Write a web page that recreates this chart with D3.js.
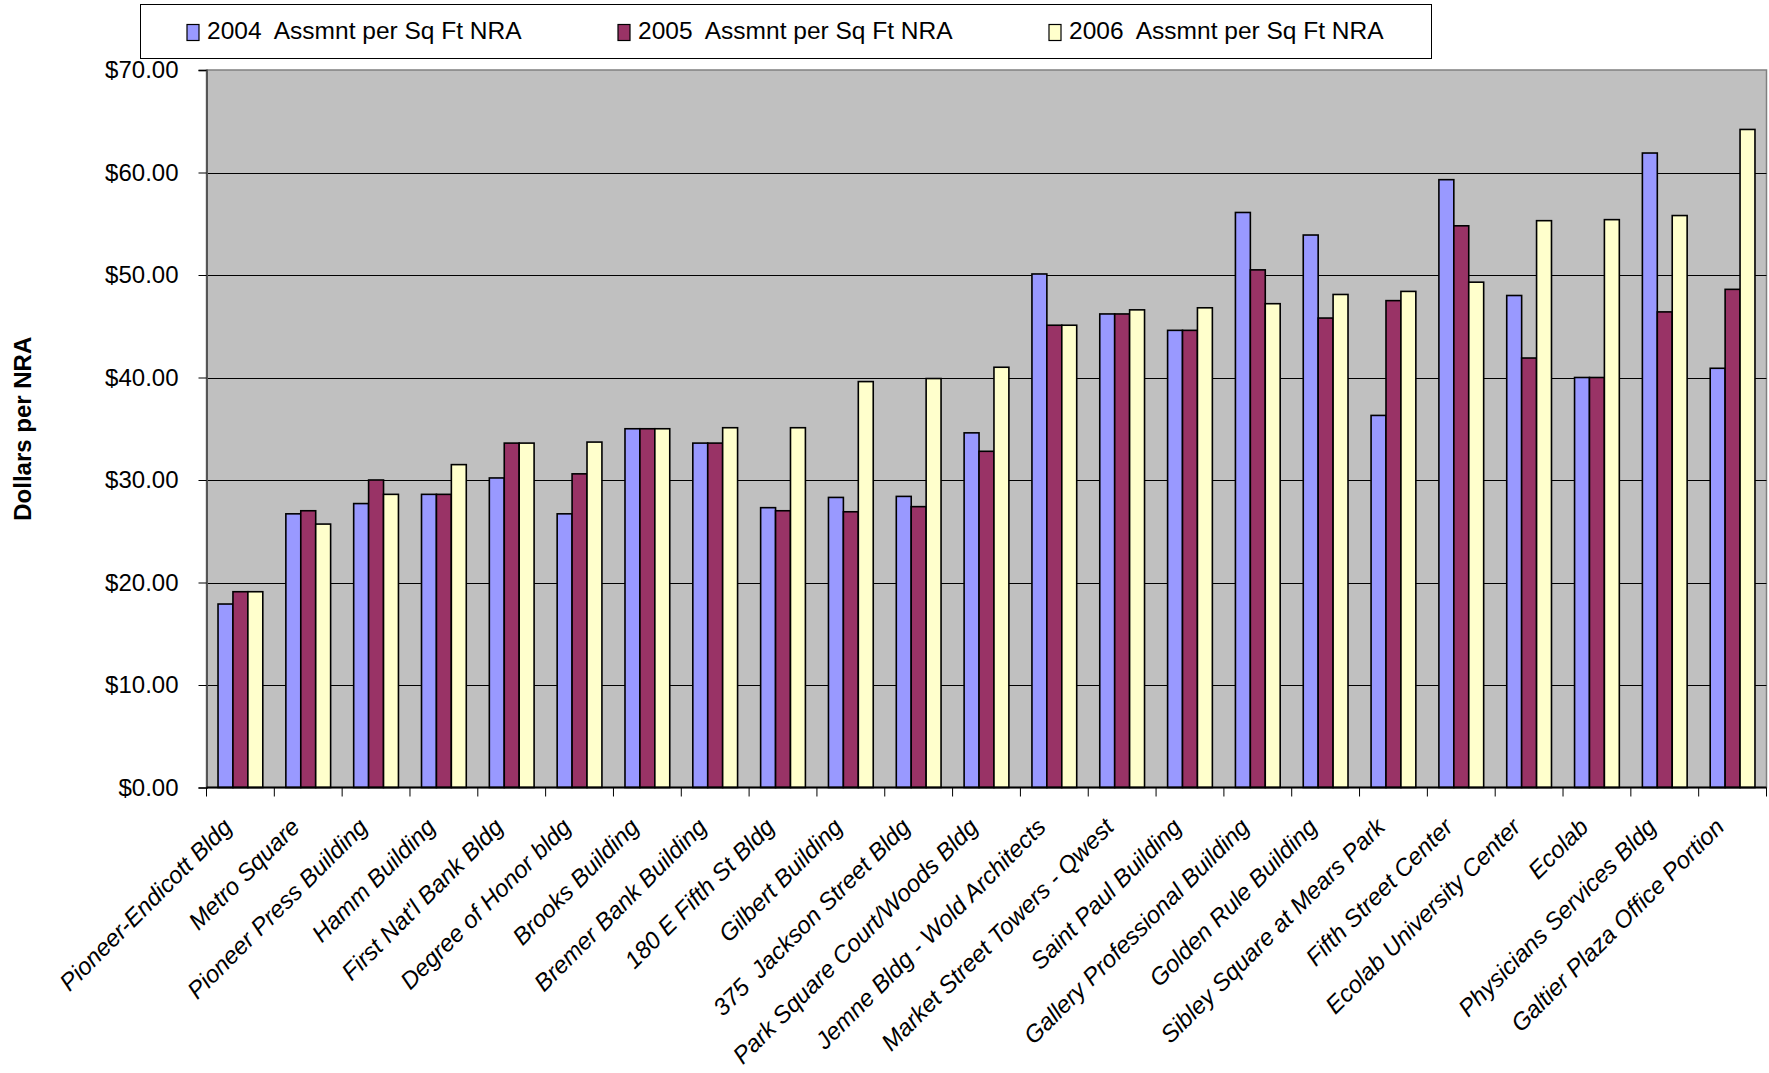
<!DOCTYPE html>
<html>
<head>
<meta charset="utf-8">
<script src="https://cdn.jsdelivr.net/npm/d3@7/dist/d3.min.js"></script>
<style>
  html, body { margin: 0; padding: 0; background: #ffffff; }
  svg { display: block; font-family: "Liberation Sans", Arial, sans-serif; }
  svg text { white-space: pre; }
</style>
</head>
<body>
<svg id="chart" width="1769" height="1073"></svg>
<script>
// Buildings, in display order
const buildings = [
  "Pioneer-Endicott Bldg", "Metro Square", "Pioneer Press Building", "Hamm Building",
  "First Nat'l Bank Bldg", "Degree of Honor bldg", "Brooks Building", "Bremer Bank Building",
  "180 E Fifth St Bldg", "Gilbert Building", "375  Jackson Street Bldg",
  "Park Square Court/Woods Bldg", "Jemne Bldg - Wold Architects",
  "Market Street Towers - Qwest", "Saint Paul Building", "Gallery Professional Building",
  "Golden Rule Building", "Sibley Square at Mears Park", "Fifth Street Center",
  "Ecolab University Center", "Ecolab", "Physicians Services Bldg", "Galtier Plaza Office Portion"
];

// Assessment per square foot of net rentable area, by year
const assess2004 = [17.9, 26.7, 27.7, 28.6, 30.2, 26.7, 35.0, 33.6, 27.3, 28.3, 28.4, 34.6,
                    50.1, 46.2, 44.6, 56.1, 53.9, 36.3, 59.3, 48.0, 40.0, 61.9, 40.9];
const assess2005 = [19.1, 27.0, 30.0, 28.6, 33.6, 30.6, 35.0, 33.6, 27.0, 26.9, 27.4, 32.8,
                    45.1, 46.2, 44.6, 50.5, 45.8, 47.5, 54.8, 41.9, 40.0, 46.4, 48.6];
const assess2006 = [19.1, 25.7, 28.6, 31.5, 33.6, 33.7, 35.0, 35.1, 35.1, 39.6, 39.9, 41.0,
                    45.1, 46.6, 46.8, 47.2, 48.1, 48.4, 49.3, 55.3, 55.4, 55.8, 64.2];

const seriesNames = ["2004  Assmnt per Sq Ft NRA", "2005  Assmnt per Sq Ft NRA", "2006  Assmnt per Sq Ft NRA"];
const seriesColors = ["#9999FF", "#993366", "#FFFFCC"];
const yTicks = [0, 10, 20, 30, 40, 50, 60, 70];
const yTitle = "Dollars per NRA";

const seriesValues = [assess2004, assess2005, assess2006];

const svg = d3.select("#chart");
const plot = { left: 206.5, right: 1766.5, top: 70, bottom: 787.5 };

const x = d3.scaleBand().domain(buildings).range([plot.left, plot.right]).padding(0);
const y = d3.scaleLinear().domain([0, 70]).range([plot.bottom, plot.top]);

const bw = x.bandwidth();
const barW = bw * 0.22;
const groupOffset = bw * 0.17;

// Plot background
svg.append("rect")
  .attr("x", plot.left).attr("y", plot.top)
  .attr("width", plot.right - plot.left).attr("height", plot.bottom - plot.top)
  .attr("fill", "#C0C0C0").attr("stroke", "#808080").attr("stroke-width", 1.5);

// Horizontal gridlines
svg.append("g").selectAll("line")
  .data(yTicks.filter(t => t > 0 && t < 70))
  .join("line")
  .attr("x1", plot.left).attr("x2", plot.right)
  .attr("y1", d => Math.round(y(d)) + 0.5).attr("y2", d => Math.round(y(d)) + 0.5)
  .attr("stroke", "#000").attr("stroke-width", 1);

// Bars
seriesValues.forEach((vals, si) => {
  svg.append("g").selectAll("rect")
    .data(vals.map((v, i) => ({ name: buildings[i], v })))
    .join("rect")
    .attr("x", d => x(d.name) + groupOffset + si * barW)
    .attr("y", d => y(d.v))
    .attr("width", barW)
    .attr("height", d => plot.bottom - y(d.v))
    .attr("fill", seriesColors[si])
    .attr("stroke", "#000").attr("stroke-width", 1.6);
});

// Y axis
const yAxis = d3.axisLeft(y).tickValues(yTicks).tickFormat(d3.format("$.2f")).tickSize(8).tickPadding(20);
const gy = svg.append("g").attr("transform", `translate(${plot.left},0)`).call(yAxis);
gy.select(".domain").attr("stroke", "#555").attr("stroke-width", 2);
gy.selectAll(".tick line").attr("stroke", "#000");
gy.selectAll(".tick text").attr("font-size", 24).attr("fill", "#000")
  .attr("font-family", "'Liberation Sans', Arial, sans-serif");

// X axis with ticks on category boundaries
svg.append("line")
  .attr("x1", plot.left).attr("x2", plot.right)
  .attr("y1", plot.bottom).attr("y2", plot.bottom)
  .attr("stroke", "#000").attr("stroke-width", 2);
const boundaries = buildings.map(b => x(b)).concat([plot.right]);
svg.append("g").selectAll("line")
  .data(boundaries)
  .join("line")
  .attr("x1", d => d).attr("x2", d => d)
  .attr("y1", plot.bottom).attr("y2", plot.bottom + 9)
  .attr("stroke", "#000").attr("stroke-width", 1);

// Category labels, rotated
svg.append("g").selectAll("text")
  .data(buildings)
  .join("text")
  .attr("transform", d => `translate(${x(d) + bw / 2 - 7},${plot.bottom + 41}) rotate(-45)`)
  .attr("text-anchor", "end")
  .attr("font-size", 24)
  .attr("font-style", "italic")
  .attr("fill", "#000")
  .text(d => d);

// Y axis title
svg.append("text")
  .attr("transform", `translate(31,${(plot.top + plot.bottom) / 2}) rotate(-90)`)
  .attr("text-anchor", "middle")
  .attr("font-size", 24)
  .attr("font-weight", "bold")
  .text(yTitle);

// Legend
const legend = svg.append("g");
legend.append("rect")
  .attr("x", 140.5).attr("y", 4.5).attr("width", 1291).attr("height", 54)
  .attr("fill", "#fff").attr("stroke", "#000").attr("stroke-width", 1);
const legendX = [187, 618, 1049];
seriesNames.forEach((name, i) => {
  legend.append("rect")
    .attr("x", legendX[i]).attr("y", 24.5).attr("width", 12).attr("height", 16)
    .attr("fill", seriesColors[i]).attr("stroke", "#000").attr("stroke-width", 1.2);
  legend.append("text")
    .attr("x", legendX[i] + 20).attr("y", 33)
    .attr("dominant-baseline", "middle")
    .attr("font-size", 24.5)
    .text(name);
});
</script>
</body>
</html>
